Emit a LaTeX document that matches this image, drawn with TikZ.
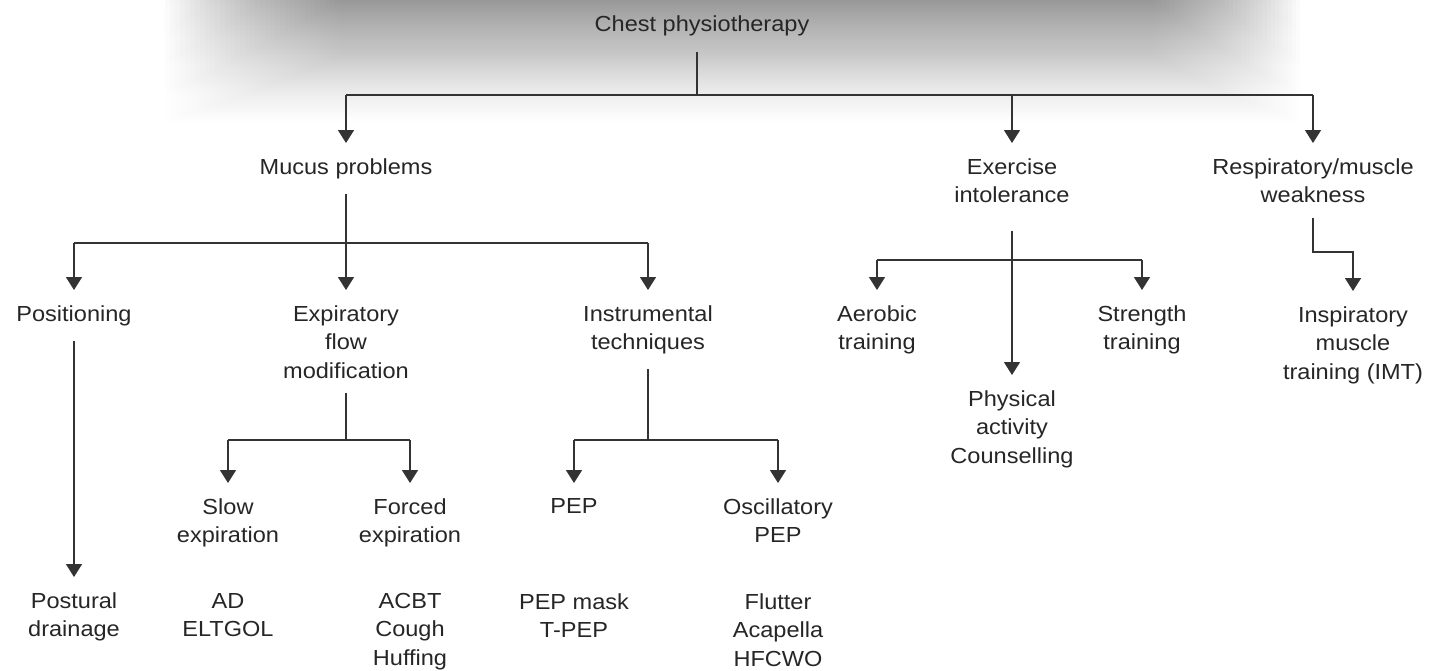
\documentclass[tikz,border=0pt]{standalone}
\usepackage{fontspec}
\setmainfont{Liberation Sans}[FakeStretch=1.08]
\usetikzlibrary{arrows.meta}
\definecolor{txt}{HTML}{262626}
\definecolor{ln}{HTML}{333333}
\definecolor{shadowgray}{HTML}{7A7A7A}
\begin{document}
\begin{tikzpicture}[x=1pt,y=-1pt,
  lbl/.style={font=\fontsize{21.8}{28.5}\selectfont, text=txt, align=center, inner xsep=2pt, inner ysep=15pt, anchor=north},
  conn/.style={draw=ln, line width=1.6pt},
  arr/.style={conn, -{Triangle[width=16pt,length=13pt]}}]
\useasboundingbox (0,0) rectangle (1429,670);
\fill[white] (0,0) rectangle (1429,670);
% soft grey shadow behind the title
\foreach \i in {0,...,35} {
  \shade[top color=shadowgray, bottom color=white, opacity=0.03]
    (165+\i*5,0) rectangle (1300-\i*4.2,122-\i*0.8);
}
% level 0
\node[lbl] (chest) at (702,1) {Chest physiotherapy};
\coordinate (b0) at (697,95);
% level 1
\node[lbl] (mucus) at (346,143) {Mucus problems};
\node[lbl] (exer) at (1012,143) {Exercise\\intolerance};
\node[lbl] (resp) at (1313,143) {Respiratory/muscle\\weakness};
\draw[conn] (chest.south -| b0) -- (b0);
\draw[conn] (mucus.north |- b0) -- (resp.north |- b0);
\draw[arr] (mucus.north |- b0) -- (mucus.north);
\draw[arr] (exer.north |- b0) -- (exer.north);
\draw[arr] (resp.north |- b0) -- (resp.north);
% mucus branch
\coordinate (b1) at (346,243);
\node[lbl] (pos) at (74,290) {Positioning};
\node[lbl] (expf) at (346,290) {Expiratory\\flow\\modification};
\node[lbl] (instr) at (648,290) {Instrumental\\techniques};
\draw[conn] (mucus.south) -- (b1);
\draw[conn] (pos.north |- b1) -- (instr.north |- b1);
\draw[arr] (pos.north |- b1) -- (pos.north);
\draw[arr] (expf.north |- b1) -- (expf.north);
\draw[arr] (instr.north |- b1) -- (instr.north);
% positioning
\node[lbl] (post) at (74,577) {Postural\\drainage};
\draw[arr] (pos.south) -- (post.north);
% expiratory flow modification
\coordinate (b2) at (346,440);
\node[lbl] (slow) at (228,483) {Slow\\expiration};
\node[lbl] (forced) at (410,483) {Forced\\expiration};
\draw[conn] (expf.south) -- (b2);
\draw[conn] (slow.north |- b2) -- (forced.north |- b2);
\draw[arr] (slow.north |- b2) -- (slow.north);
\draw[arr] (forced.north |- b2) -- (forced.north);
\node[lbl] (ad) at (228,578) {AD\\ELTGOL};
\node[lbl] (acbt) at (410,578) {ACBT\\Cough\\Huffing};
% instrumental techniques
\coordinate (b3) at (648,440);
\node[lbl] (pep) at (574,483) {PEP};
\node[lbl] (osc) at (778,483) {Oscillatory\\PEP};
\draw[conn] (instr.south) -- (b3);
\draw[conn] (pep.north |- b3) -- (osc.north |- b3);
\draw[arr] (pep.north |- b3) -- (pep.north);
\draw[arr] (osc.north |- b3) -- (osc.north);
\node[lbl] (pepm) at (574,578) {PEP mask\\T-PEP};
\node[lbl] (flut) at (778,578) {Flutter\\Acapella\\HFCWO};
% exercise intolerance
\coordinate (b4) at (1012,260);
\node[lbl] (aer) at (877,290) {Aerobic\\training};
\node[lbl] (str) at (1142,290) {Strength\\training};
\node[lbl] (phys) at (1012,375) {Physical\\activity\\Counselling};
\draw[arr] ([yshift=-13pt]exer.south) -- (phys.north);
\draw[conn] (aer.north |- b4) -- (str.north |- b4);
\draw[arr] (aer.north |- b4) -- (aer.north);
\draw[arr] (str.north |- b4) -- (str.north);
% respiratory/muscle weakness
\coordinate (b5) at (1353,252);
\node[lbl] (imt) at (1353,291) {Inspiratory\\muscle\\training (IMT)};
\draw[arr] (resp.south) |- (b5) -- (imt.north);
\end{tikzpicture}
\end{document}
